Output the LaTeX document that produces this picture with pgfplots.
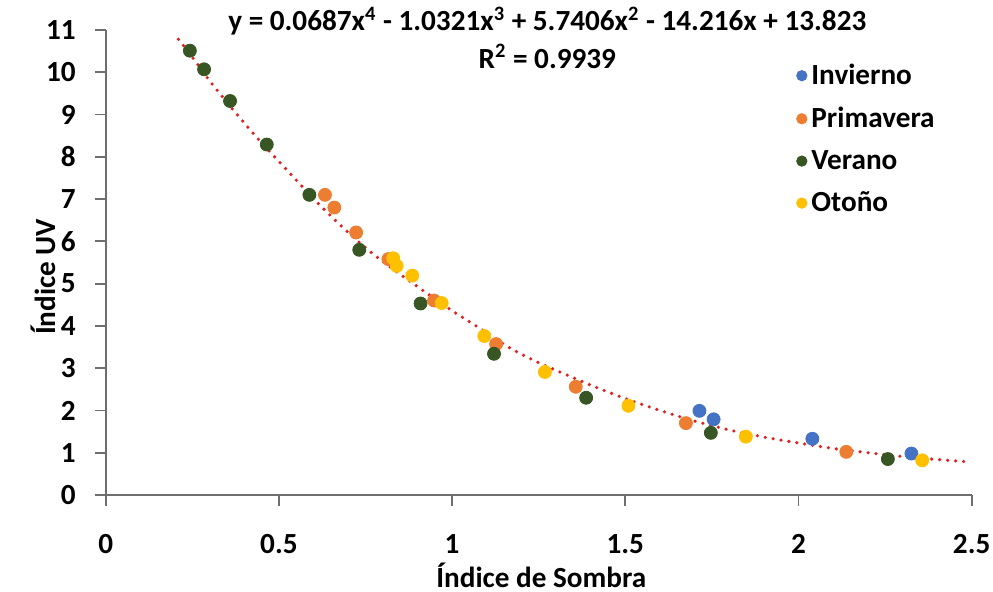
\documentclass[border=0pt]{standalone}
\usepackage{fontspec}
\setmainfont{Carlito}
\usepackage{pgfplots}
\pgfplotsset{compat=1.18}
\definecolor{cInv}{HTML}{4472C4}
\definecolor{cPri}{HTML}{ED7D31}
\definecolor{cVer}{HTML}{375623}
\definecolor{cOto}{HTML}{FFC000}
\definecolor{cTrend}{HTML}{E0201E}
\definecolor{cAxis}{HTML}{6E6E6E}
\pgfplotsset{dotleg/.style={legend image code/.code={\fill[#1] (0pt,0pt) circle (2.6pt);}}}
\newcommand{\bigbf}{\fontsize{14.6}{16.5}\selectfont\bfseries}
\begin{document}
\begin{tikzpicture}
\useasboundingbox (-52.85pt,-48.5pt) rectangle (443.65pt,247.5pt);
\begin{axis}[
  at={(0pt,0pt)}, anchor=south west,
  scale only axis, width=433pt, height=232.5pt,
  xmin=0, xmax=2.5, ymin=0, ymax=11,
  axis lines=left,
  axis line style={-, draw=cAxis, line width=0.9pt},
  every outer x axis line/.append style={-},
  every outer y axis line/.append style={-},
  tick align=outside, major tick length=5.5pt,
  tick style={draw=cAxis, line width=0.9pt},
  xtick={0,0.5,1,1.5,2,2.5}, ytick={0,1,2,3,4,5,6,7,8,9,10,11},
  /pgf/number format/assume math mode=true,
  tick label style={font=\bigbf},
  xticklabel style={anchor=base, yshift=-24pt},
  yticklabel style={anchor=east, xshift=-6pt},
  xlabel={Índice de Sombra},
  ylabel={Índice UV},
  label style={font=\bigbf},
  xlabel style={at={(axis description cs:0.503,-0.198)}, anchor=base},
  ylabel style={at={(axis description cs:-0.0585,0.469)}, anchor=base},
  legend style={draw=none, fill=none, at={(rel axis cs:0.79,0.945)}, anchor=north west,
    font=\bigbf, row sep=5.8pt, legend cell align=left},
  clip=false,
]
\addplot[only marks, mark=*, mark size=3.25pt, color=cInv, dotleg=cInv] coordinates {
 (1.714,1.99) (1.755,1.79) (2.040,1.33) (2.326,0.98)
};
\addlegendentry{Invierno}
\addplot[only marks, mark=*, mark size=3.25pt, color=cPri, dotleg=cPri] coordinates {
 (0.633,7.10) (0.660,6.80) (0.723,6.21) (0.816,5.58) (0.948,4.60)
 (1.127,3.57) (1.357,2.56) (1.675,1.70) (2.138,1.02)
};
\addlegendentry{Primavera}
\addplot[only marks, mark=*, mark size=3.25pt, color=cVer, dotleg=cVer] coordinates {
 (0.243,10.51) (0.284,10.07) (0.359,9.32) (0.465,8.29) (0.588,7.10)
 (0.732,5.80) (0.909,4.53) (1.121,3.34) (1.387,2.30) (1.747,1.47) (2.258,0.85)
};
\addlegendentry{Verano}
\addplot[only marks, mark=*, mark size=3.25pt, color=cOto, dotleg=cOto] coordinates {
 (0.830,5.60) (0.840,5.42) (0.885,5.19) (0.970,4.54) (1.093,3.76)
 (1.268,2.91) (1.509,2.11) (1.848,1.38) (2.357,0.82)
};
\addlegendentry{Otoño}
\addplot[forget plot, smooth, no marks, color=cTrend, line width=1.8pt, line cap=round,
  dash pattern=on 0pt off 4pt] coordinates {
 (0.21,10.78) (0.25,10.36) (0.30,9.80) (0.35,9.29) (0.40,8.80) (0.45,8.33)
 (0.50,7.89) (0.55,7.45) (0.60,7.01) (0.65,6.60) (0.70,6.21) (0.75,5.85)
 (0.80,5.52) (0.85,5.22) (0.90,4.93) (0.95,4.64) (1.00,4.36) (1.05,4.10)
 (1.10,3.84) (1.15,3.56) (1.20,3.33) (1.25,3.13) (1.30,2.95) (1.40,2.60)
 (1.50,2.28) (1.60,2.00) (1.70,1.75) (1.80,1.54) (1.90,1.37) (2.00,1.23)
 (2.10,1.10) (2.20,1.00) (2.30,0.91) (2.40,0.84) (2.48,0.79)
};
\node[font=\bigbf, anchor=base] at (rel axis cs:0.51,0.998)
  {y = 0.0687x\textsuperscript{4} - 1.0321x\textsuperscript{3} + 5.7406x\textsuperscript{2} - 14.216x + 13.823};
\node[font=\bigbf, anchor=base] at (rel axis cs:0.51,0.918)
  {R\textsuperscript{2} = 0.9939};
\end{axis}
\end{tikzpicture}
\end{document}
